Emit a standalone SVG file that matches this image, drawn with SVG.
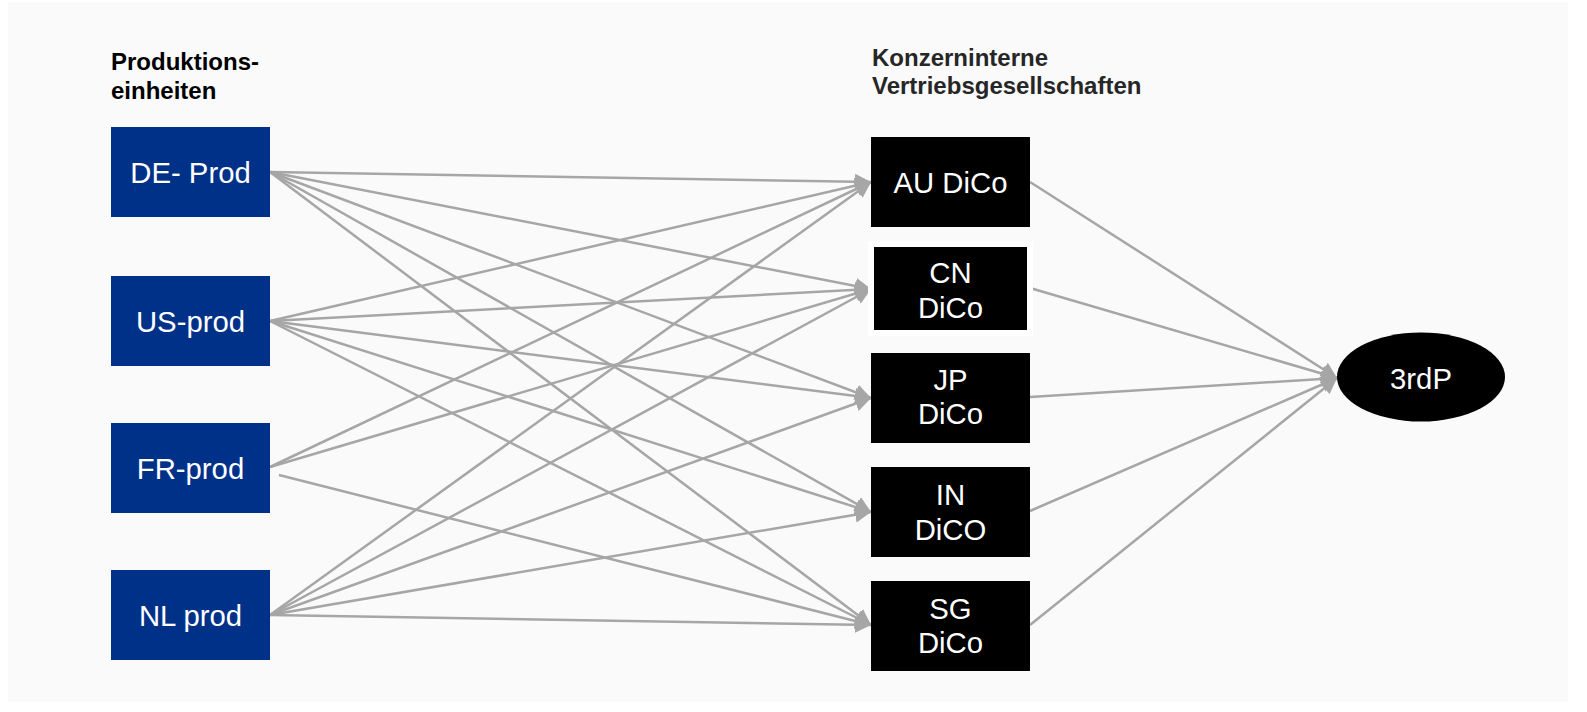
<svg xmlns="http://www.w3.org/2000/svg" width="1587" height="712" viewBox="0 0 1587 712">
  <style>
    .hdr { font-family: "Liberation Sans", Arial, sans-serif; font-weight: bold; font-size: 24px; }
    .lbl { font-family: "Liberation Sans", Arial, sans-serif; font-size: 29.3px; fill: #ffffff; text-anchor: middle; }
    .prod { fill: #003189; }
    .dico { fill: #000000; }
    .edge { stroke: #a6a6a6; stroke-width: 2.5; fill: none; marker-end: url(#arrow); }
  </style>
  <defs>
    <marker id="arrow" markerUnits="userSpaceOnUse" markerWidth="18" markerHeight="16" refX="16" refY="8" orient="auto">
      <path d="M0,0 L16,8 L0,16 Z" fill="#a6a6a6"/>
    </marker>
  </defs>

  <!-- page -->
  <rect x="0" y="0" width="1587" height="712" fill="#ffffff"/>
  <rect x="8" y="2" width="1560" height="700" fill="#fafafa"/>

  <!-- column headings -->
  <g id="heading-production">
    <text class="hdr" x="111" y="70" fill="#000000">Produktions-</text>
    <text class="hdr" x="111" y="99" fill="#000000">einheiten</text>
  </g>
  <g id="heading-distribution">
    <text class="hdr" x="872" y="66" fill="#262626">Konzerninterne</text>
    <text class="hdr" x="872" y="94" fill="#262626">Vertriebsgesellschaften</text>
  </g>

  <!-- connectors -->
  <g id="connectors">
    <!-- DE -->
    <line class="edge" x1="270" y1="172" x2="871" y2="182"/>
    <line class="edge" x1="270" y1="172" x2="871" y2="289"/>
    <line class="edge" x1="270" y1="172" x2="871" y2="398"/>
    <line class="edge" x1="270" y1="172" x2="871" y2="512"/>
    <line class="edge" x1="270" y1="172" x2="871" y2="625"/>
    <!-- US -->
    <line class="edge" x1="270" y1="321" x2="871" y2="182"/>
    <line class="edge" x1="270" y1="321" x2="871" y2="289"/>
    <line class="edge" x1="270" y1="321" x2="871" y2="398"/>
    <line class="edge" x1="270" y1="321" x2="871" y2="512"/>
    <line class="edge" x1="270" y1="321" x2="871" y2="625"/>
    <!-- FR -->
    <line class="edge" x1="270" y1="467" x2="871" y2="182"/>
    <line class="edge" x1="270" y1="467" x2="871" y2="289"/>
    <line class="edge" x1="279" y1="475" x2="871" y2="625"/>
    <!-- NL -->
    <line class="edge" x1="270" y1="615" x2="871" y2="182"/>
    <line class="edge" x1="270" y1="615" x2="871" y2="289"/>
    <line class="edge" x1="270" y1="615" x2="871" y2="398"/>
    <line class="edge" x1="270" y1="615" x2="871" y2="512"/>
    <line class="edge" x1="270" y1="615" x2="871" y2="625"/>
    <!-- distribution companies to third parties -->
    <line class="edge" x1="1030" y1="182" x2="1337" y2="378"/>
    <line class="edge" x1="1030" y1="288" x2="1337" y2="378"/>
    <line class="edge" x1="1030" y1="397" x2="1337" y2="378"/>
    <line class="edge" x1="1030" y1="511" x2="1337" y2="378"/>
    <line class="edge" x1="1030" y1="625" x2="1337" y2="378"/>
  </g>

  <!-- production units -->
  <g id="de-prod">
    <rect class="prod" x="111" y="127" width="159" height="90"/>
    <text class="lbl" x="190.5" y="183">DE- Prod</text>
  </g>
  <g id="us-prod">
    <rect class="prod" x="111" y="276" width="159" height="90"/>
    <text class="lbl" x="190.5" y="332">US-prod</text>
  </g>
  <g id="fr-prod">
    <rect class="prod" x="111" y="423" width="159" height="90"/>
    <text class="lbl" x="190.5" y="479">FR-prod</text>
  </g>
  <g id="nl-prod">
    <rect class="prod" x="111" y="570" width="159" height="90"/>
    <text class="lbl" x="190.5" y="626">NL prod</text>
  </g>

  <!-- distribution companies -->
  <g id="au-dico">
    <rect class="dico" x="871" y="137" width="159" height="90"/>
    <text class="lbl" x="950.5" y="193">AU DiCo</text>
  </g>
  <g id="cn-dico">
    <rect x="868" y="241" width="165" height="95" fill="#ffffff"/>
    <rect class="dico" x="874" y="247" width="153" height="83"/>
    <text class="lbl" x="950.5" y="283">CN</text>
    <text class="lbl" x="950.5" y="317.5">DiCo</text>
  </g>
  <g id="jp-dico">
    <rect class="dico" x="871" y="353" width="159" height="90"/>
    <text class="lbl" x="950.5" y="389.5">JP</text>
    <text class="lbl" x="950.5" y="424">DiCo</text>
  </g>
  <g id="in-dico">
    <rect class="dico" x="871" y="467" width="159" height="90"/>
    <text class="lbl" x="950.5" y="505">IN</text>
    <text class="lbl" x="950.5" y="540">DiCO</text>
  </g>
  <g id="sg-dico">
    <rect class="dico" x="871" y="581" width="159" height="90"/>
    <text class="lbl" x="950.5" y="618.5">SG</text>
    <text class="lbl" x="950.5" y="653">DiCo</text>
  </g>

  <!-- third parties -->
  <g id="third-party">
    <ellipse cx="1421" cy="377" rx="84" ry="44.5" fill="#000000"/>
    <text class="lbl" x="1421" y="388.5">3rdP</text>
  </g>
</svg>
